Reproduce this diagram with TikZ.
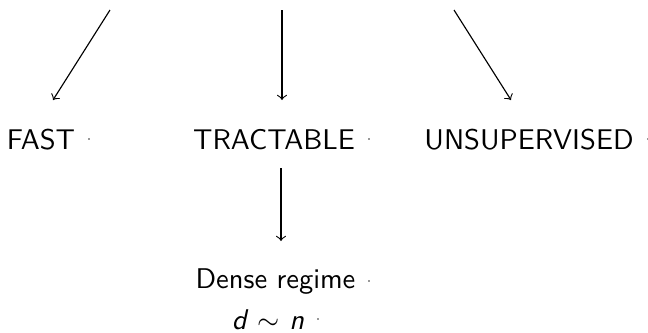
\documentclass[tikz,border=0pt]{standalone}
\usepackage{tikz}
\usetikzlibrary{positioning}
\usetikzlibrary{arrows}

\begin{document}
\begin{tikzpicture}[
x=0.351pt, y=-0.351pt,
txt/.style={font=\sffamily, anchor=base},
edge/.style={->, line width=0.4pt},
tick/.style={fill=black!40}
]
\useasboundingbox (0,0) rectangle (648,332);

%Nodes
\node[txt]        (fast)       at (41,149)     {FAST};
\node[txt]        (tractable)  at (274,149)    {TRACTABLE};
\node[txt]        (unsup)      at (529,149)    {UNSUPERVISED};
\node[txt]        (dense)      at (275.5,288)  {Dense regime};
\node[txt]        (dn)         at (268,329)    {\textit{d} $\sim$ \textit{n}};

%Ends of the arrows
\coordinate (fasttop)   at (110,10);
\coordinate (fastend)   at (53,100);
\coordinate (tracttop)  at (282,10);
\coordinate (tractend)  at (282,100);
\coordinate (unsuptop)  at (454,10);
\coordinate (unsupend)  at (511,100);
\coordinate (densetop)  at (281,168);
\coordinate (denseend)  at (281,241);

%Lines
\draw[edge] (fasttop) -- (fastend);
\draw[edge] (tracttop) -- (tractend);
\draw[edge] (unsuptop) -- (unsupend);
\draw[edge] (densetop) -- (denseend);

%little marks at the right of the labels
\foreach \n in {fast, tractable, unsup, dense, dn}
  \fill[tick] (\n.east) ++(3,-1) rectangle ++(2,2);

\end{tikzpicture}
\end{document}
